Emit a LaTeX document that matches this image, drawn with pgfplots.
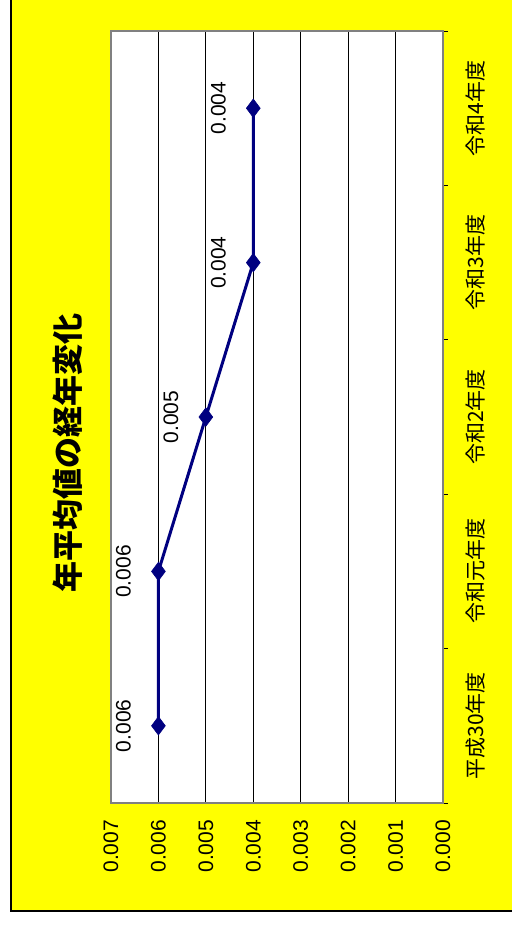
\documentclass[border=0pt]{standalone}
\usepackage{fontspec}
\setmainfont{Liberation Sans}
\newfontfamily\jp{Noto Sans CJK JP}
\usepackage{pgfplots}
\pgfplotsset{compat=1.18}
\usepackage{pgfplotstable}
\definecolor{navy}{RGB}{0,0,128}
\definecolor{bgyellow}{RGB}{255,255,0}
\pgfplotstableread{
pos val label
1 0.006 0.006
2 0.006 0.006
3 0.005 0.005
4 0.004 0.004
5 0.004 0.004
}\datatable
\begin{document}
\begin{tikzpicture}
\path[use as bounding box] (-55.5pt,-61.5pt) rectangle (200.5pt,401.5pt);
\fill[bgyellow] (-50pt,-54pt) rectangle (202pt,403pt);
\draw[black, line width=0.6pt] (-50pt,403pt) -- (-50pt,-54pt) -- (202pt,-54pt);
\begin{axis}[
  scale only axis, width=166pt, height=386pt,
  axis background/.style={fill=white},
  xmin=0, xmax=0.007, x dir=reverse,
  ymin=0.5, ymax=5.5,
  scaled x ticks=false,
  xtick={0,0.001,0.002,0.003,0.004,0.005,0.006,0.007},
  xticklabels={0.000,0.001,0.002,0.003,0.004,0.005,0.006,0.007},
  xtick pos=bottom,
  xticklabel style={font=\fontsize{10.5}{12}\selectfont, yshift=-5pt, rotate=90, anchor=east},
  ytick={1,2,3,4,5},
  yticklabels={平成30年度,令和元年度,令和2年度,令和3年度,令和4年度},
  ytick pos=right,
  yticklabel pos=right,
  yticklabel style={font=\jp\fontsize{10.5}{12}\selectfont, xshift=8pt, rotate=90, anchor=north},
  minor ytick={0.5,1.5,2.5,3.5,4.5,5.5},
  major tick length=0pt, minor tick length=2.5pt,
  tick align=outside,
  minor tick style={black, line width=0.5pt},
  xmajorgrids, major grid style={black, line width=0.5pt},
  axis line style={draw=gray, line width=1pt},
  /pgf/number format/assume math mode=true,
]
\addplot[navy, line width=1.5pt, mark=diamond*, mark size=4.6pt,
  mark options={solid, fill=navy, draw=navy, line width=0.3pt},
  nodes near coords, point meta=explicit symbolic,
  every node near coord/.style={xshift=-17.5pt, rotate=90, anchor=center, text=black, font=\fontsize{10.5}{12}\selectfont}]
  table[x=val, y=pos, meta=label]{\datatable};
\end{axis}
\node[font=\jp\bfseries\fontsize{15.5}{18}\selectfont, rotate=90] at (-21.5pt,175pt) {年平均値の経年変化};
\end{tikzpicture}
\end{document}
